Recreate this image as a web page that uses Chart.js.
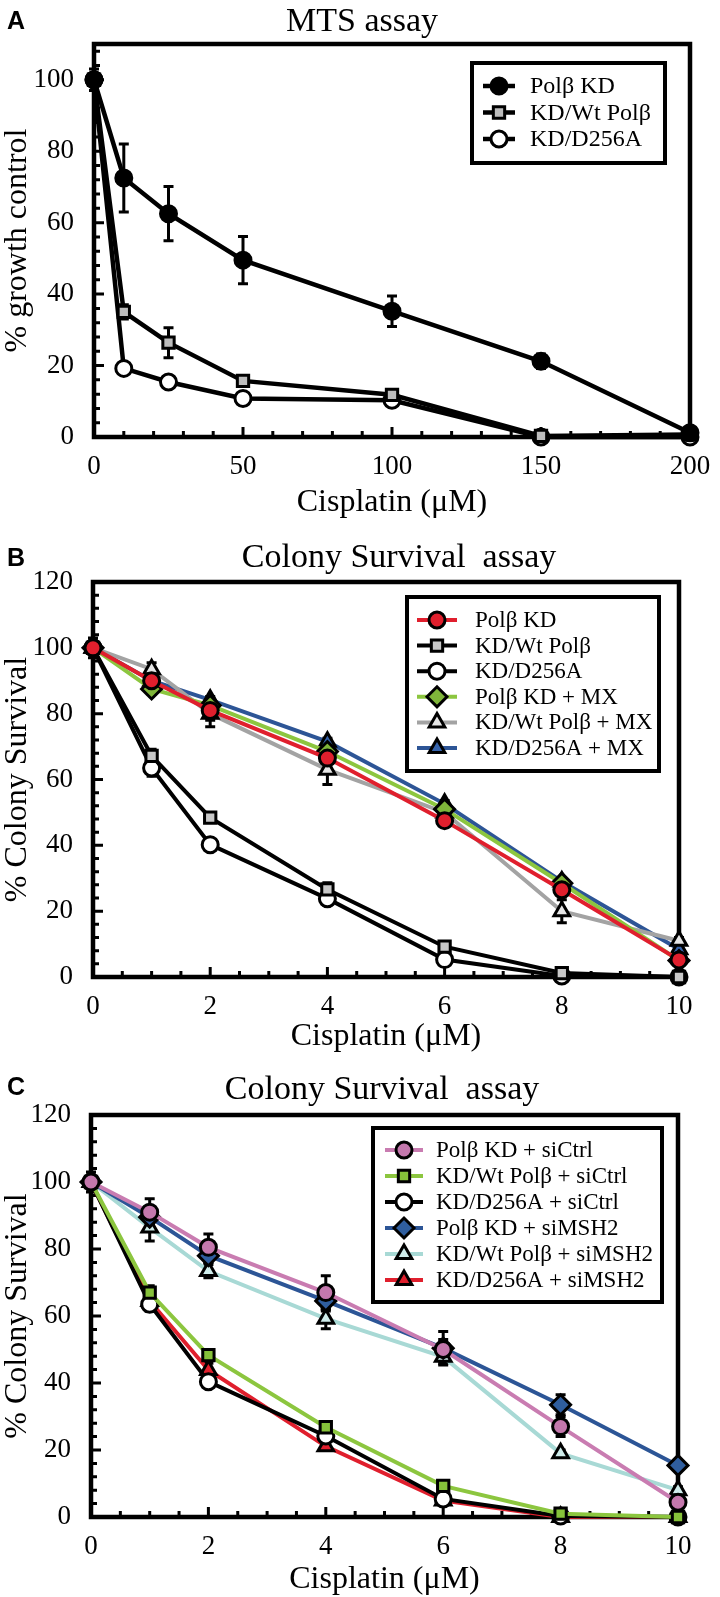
<!DOCTYPE html>
<html>
<head>
<meta charset="utf-8">
<script src="https://cdn.jsdelivr.net/npm/chart.js@4/dist/chart.umd.min.js"></script>
<style>
  html, body { margin: 0; padding: 0; background: #fff; }
  body { width: 720px; height: 1597px; position: relative; overflow: hidden; }
  canvas { position: absolute; left: 0; }
</style>
</head>
<body>
<canvas id="chartA" width="720" height="520" style="top:0"></canvas>
<canvas id="chartB" width="720" height="534" style="top:520px"></canvas>
<canvas id="chartC" width="720" height="547" style="top:1050px"></canvas>
<script>
// ---- data: panel A (MTS assay) ----
const xA = [0, 10, 25, 50, 100, 150, 200];
const kdA = [100, 72.5, 62.5, 49.5, 35.2, 21.2, 1.2];
const kdAErr = [3, 9.5, 7.6, 6.6, 4.3, 2, 0];
const wtA = [100, 35, 26.4, 15.7, 11.8, 0.3, 0.7];
const wtAErr = [0, 2, 4.2, 1.2, 1, 0, 0];
const d256A = [100, 19.2, 15.4, 10.8, 10.3, 0, 0];
const d256AErr = [0, 1, 0.8, 0.8, 0.8, 0, 0];
const xTicksA = [0, 50, 100, 150, 200];
const yTicksA = [0, 20, 40, 60, 80, 100];
const legendA = ["Polβ KD", "KD/Wt Polβ", "KD/D256A"];

// ---- data: panel B (colony survival, MX) ----
const xB = [0, 1, 2, 4, 6, 8, 10];
const kdB = [100, 90, 81, 66.5, 47.5, 26.5, 5.2];
const kdBErr = [2, 2, 3, 3, 1.5, 2, 1];
const wtB = [100, 67.2, 48.4, 26.6, 9.2, 1.2, 0];
const wtBErr = [3, 2, 1, 2, 1, 0.8, 0];
const d256B = [100, 63.5, 40.2, 23.8, 5.3, 0.3, 0];
const d256BErr = [2, 2.5, 1, 2, 1, 0, 0];
const kdMxB = [100, 87.5, 82.5, 68.5, 51, 28.5, 5];
const kdMxBErr = [1, 1.5, 2, 2, 1, 1, 1];
const wtMxB = [100, 93.5, 80, 63, 50, 20, 11];
const wtMxBErr = [1, 2, 4, 4.5, 2, 3.5, 1];
const d256MxB = [100, 90, 84.2, 71.5, 52.6, 29, 8.4];
const d256MxBErr = [1, 1, 1, 1, 1, 1, 1];
const legendB = ["Polβ KD", "KD/Wt Polβ", "KD/D256A", "Polβ KD + MX", "KD/Wt Polβ + MX", "KD/D256A + MX"];

// ---- data: panel C (colony survival, siRNA) ----
const xC = [0, 1, 2, 4, 6, 8, 10];
const kdCtrlC = [100, 91, 80.5, 67, 50, 27, 4.4];
const kdCtrlCErr = [2, 4, 4, 5, 3, 3, 1];
const wtCtrlC = [100, 67, 48.3, 26.8, 9.3, 1, 0];
const wtCtrlCErr = [3, 2, 1, 1, 1, 1, 0];
const d256CtrlC = [100, 63.5, 40.4, 24.2, 5.4, 0.3, 0];
const d256CtrlCErr = [2, 2, 1, 1, 1, 0, 0];
const kdMshC = [100, 89.5, 78, 64.5, 50.4, 33.5, 15.4];
const kdMshCErr = [1, 2, 2, 3, 5, 3, 1];
const wtMshC = [100, 86.4, 73.4, 59.2, 47.8, 19, 8];
const wtMshCErr = [1, 4, 2, 3, 2, 1, 1];
const d256MshC = [100, 64.5, 43.9, 21.1, 4.9, 0, 0];
const d256MshCErr = [1, 3, 2, 1, 1, 0, 0];
const legendC = ["Polβ KD + siCtrl", "KD/Wt Polβ + siCtrl", "KD/D256A + siCtrl", "Polβ KD + siMSH2", "KD/Wt Polβ + siMSH2", "KD/D256A + siMSH2"];

const xTicksBC = [0, 2, 4, 6, 8, 10];
const yTicksBC = [0, 20, 40, 60, 80, 100, 120];

const SERIF = "'Liberation Serif', 'Times New Roman', serif";
const SANS = "'Liberation Sans', Arial, sans-serif";

Chart.defaults.font.family = SERIF;
Chart.defaults.color = "#000";

const pts = (xs, ys) => xs.map((x, i) => ({ x, y: ys[i] }));

function series(label, xs, ys, err, line, fill, style, r, lw) {
  return {
    label, data: pts(xs, ys), err,
    borderColor: line, borderWidth: lw || 4, tension: 0,
    pointStyle: style, pointRadius: r || 8, pointBorderWidth: 3,
    pointBackgroundColor: fill, pointBorderColor: "#000",
    clip: false,
  };
}

// error bars, inner tick marks, frame, legend box, title, panel letter
const panelDecor = {
  id: "panelDecor",
  beforeDatasetsDraw(chart, args, o) {
    const { ctx, chartArea: a, scales: { x, y } } = chart;
    ctx.save();
    // error bars
    ctx.strokeStyle = "#000";
    ctx.lineWidth = 3;
    chart.data.datasets.forEach((ds) => {
      (ds.err || []).forEach((e, i) => {
        if (!e) return;
        const p = ds.data[i];
        const px = x.getPixelForValue(p.x);
        const t = y.getPixelForValue(p.y + e), b = y.getPixelForValue(p.y - e);
        ctx.beginPath();
        ctx.moveTo(px, t); ctx.lineTo(px, b);
        ctx.moveTo(px - 5, t); ctx.lineTo(px + 5, t);
        ctx.moveTo(px - 5, b); ctx.lineTo(px + 5, b);
        ctx.stroke();
      });
    });
    // inner ticks
    ctx.lineWidth = 3;
    ctx.beginPath();
    for (let v = y.min; v <= y.max + 1e-6; v += o.yMinor) {
      const py = y.getPixelForValue(v);
      const major = Math.abs(v / o.yMajor - Math.round(v / o.yMajor)) < 1e-6;
      ctx.moveTo(a.left, py); ctx.lineTo(a.left + (major ? 10 : 6), py);
    }
    for (let v = x.min; v <= x.max + 1e-6; v += o.xMinor) {
      const px = x.getPixelForValue(v);
      const major = Math.abs(v / o.xMajor - Math.round(v / o.xMajor)) < 1e-6;
      ctx.moveTo(px, a.bottom); ctx.lineTo(px, a.bottom - (major ? 10 : 6));
    }
    ctx.stroke();
    // frame
    ctx.lineWidth = 4.5;
    ctx.strokeRect(a.left, a.top, a.right - a.left, a.bottom - a.top);
    ctx.restore();
  },
  afterDraw(chart, args, o) {
    const { ctx } = chart;
    const L = o.legend;
    ctx.save();
    // legend
    ctx.fillStyle = "#fff";
    ctx.fillRect(L.box[0], L.box[1], L.box[2] - L.box[0], L.box[3] - L.box[1]);
    ctx.strokeStyle = "#000";
    ctx.lineWidth = 4;
    ctx.strokeRect(L.box[0], L.box[1], L.box[2] - L.box[0], L.box[3] - L.box[1]);
    chart.data.datasets.forEach((ds, i) => {
      const ry = L.rows0 + i * L.step;
      ctx.strokeStyle = ds.borderColor;
      ctx.lineWidth = ds.borderWidth;
      ctx.beginPath();
      ctx.moveTo(L.line[0], ry); ctx.lineTo(L.line[1], ry);
      ctx.stroke();
      ctx.fillStyle = ds.pointBackgroundColor;
      ctx.strokeStyle = ds.pointBorderColor;
      ctx.lineWidth = ds.pointBorderWidth;
      Chart.helpers.drawPoint(ctx, { pointStyle: ds.pointStyle, radius: ds.pointRadius, rotation: 0, borderWidth: ds.pointBorderWidth }, L.marker, ry);
      ctx.fillStyle = "#000";
      ctx.font = L.font;
      ctx.textAlign = "left";
      ctx.textBaseline = "middle";
      ctx.fillText(ds.label, L.text, ry + 1);
    });
    // title
    ctx.fillStyle = "#000";
    ctx.textAlign = "center";
    ctx.textBaseline = "middle";
    ctx.font = "34px " + SERIF;
    ctx.fillText(o.title, o.titleAt[0], o.titleAt[1]);
    // panel letter
    ctx.font = "bold 25px " + SANS;
    ctx.fillText(o.letter, o.letterAt[0], o.letterAt[1]);
    ctx.restore();
  },
};

function build(id, datasets, c) {
  return new Chart(document.getElementById(id), {
    type: "line",
    data: { datasets },
    plugins: [panelDecor],
    options: {
      responsive: false,
      animation: false,
      layout: { padding: { top: c.top, right: 720 - c.right, left: 0, bottom: 0 } },
      plugins: {
        legend: { display: false },
        tooltip: { enabled: false },
        panelDecor: c.decor,
      },
      scales: {
        x: {
          type: "linear", min: c.xMin, max: c.xMax,
          afterBuildTicks: (s) => { s.ticks = c.xTicks.map((v) => ({ value: v })); },
          afterFit: (s) => { s.height = c.height - c.bottom; },
          grid: { display: false }, border: { display: false },
          ticks: { color: "#000", font: { family: SERIF, size: 27 }, padding: 6, maxRotation: 0, autoSkip: false },
          title: { display: true, text: "Cisplatin (μM)", color: "#000", font: { family: SERIF, size: 32, lineHeight: 1.1 }, padding: 0 },
        },
        y: {
          min: 0, max: c.yMax,
          afterBuildTicks: (s) => { s.ticks = c.yTicks.map((v) => ({ value: v })); },
          afterFit: (s) => { s.width = c.left; },
          grid: { display: false }, border: { display: false },
          ticks: { color: "#000", font: { family: SERIF, size: 27 }, padding: 12, autoSkip: false },
          title: { display: true, text: c.yTitle, color: "#000", font: { family: SERIF, size: 32, lineHeight: 1.1 }, padding: 0 },
        },
      },
    },
  });
}

// ---- Panel A ----
build("chartA", [
  series(legendA[0], xA, kdA, kdAErr, "#000", "#000", "circle", 8, 4.5),
  series(legendA[1], xA, wtA, wtAErr, "#000", "#bdbdbd", "rect", 8, 4.5),
  series(legendA[2], xA, d256A, d256AErr, "#000", "#fff", "circle", 8, 4.5),
], {
  height: 520, top: 44, left: 94, right: 690, bottom: 437,
  xMin: 0, xMax: 200, yMax: 110, xTicks: xTicksA, yTicks: yTicksA,
  yTitle: "% growth control",
  decor: {
    xMinor: 10, xMajor: 50, yMinor: 4, yMajor: 20,
    title: "MTS assay", titleAt: [362, 22], letter: "A", letterAt: [16, 22],
    legend: { box: [472, 63, 665, 163], rows0: 86, step: 26.5, line: [483, 515], marker: 499, text: 530, font: "24px " + SERIF },
  },
});

// ---- Panel B ----
build("chartB", [
  series(legendB[0], xB, kdB, kdBErr, "#e01f2d", "#e01f2d", "circle", 8),
  series(legendB[1], xB, wtB, wtBErr, "#000", "#c8c8c8", "rect", 8),
  series(legendB[2], xB, d256B, d256BErr, "#000", "#fff", "circle", 8),
  series(legendB[3], xB, kdMxB, kdMxBErr, "#8cc63f", "#7fb53a", "rectRot", 10),
  series(legendB[4], xB, wtMxB, wtMxBErr, "#a3a3a3", "#e6e6e6", "triangle", 9),
  series(legendB[5], xB, d256MxB, d256MxBErr, "#2d5596", "#3663ab", "triangle", 9),
], {
  height: 534, top: 62, left: 93, right: 679, bottom: 457,
  xMin: 0, xMax: 10, yMax: 120, xTicks: xTicksBC, yTicks: yTicksBC,
  yTitle: "% Colony Survival",
  decor: {
    xMinor: 0.5, xMajor: 2, yMinor: 4, yMajor: 20,
    title: "Colony Survival  assay", titleAt: [399, 38], letter: "B", letterAt: [16, 39],
    legend: { box: [407, 77, 659, 251], rows0: 100, step: 25.6, line: [417, 457], marker: 437, text: 475, font: "23px " + SERIF },
  },
});

// ---- Panel C ----
build("chartC", [
  series(legendC[0], xC, kdCtrlC, kdCtrlCErr, "#c97cb1", "#c478ad", "circle", 8),
  series(legendC[1], xC, wtCtrlC, wtCtrlCErr, "#8cc63f", "#86c23a", "rect", 8),
  series(legendC[2], xC, d256CtrlC, d256CtrlCErr, "#000", "#fff", "circle", 8),
  series(legendC[3], xC, kdMshC, kdMshCErr, "#2c5596", "#2f5e9f", "rectRot", 10),
  series(legendC[4], xC, wtMshC, wtMshCErr, "#a8d9d5", "#cfeceb", "triangle", 9),
  series(legendC[5], xC, d256MshC, d256MshCErr, "#e01f2d", "#e01f2d", "triangle", 9),
], {
  height: 547, top: 65, left: 91, right: 678, bottom: 467,
  xMin: 0, xMax: 10, yMax: 120, xTicks: xTicksBC, yTicks: yTicksBC,
  yTitle: "% Colony Survival",
  decor: {
    xMinor: 0.5, xMajor: 2, yMinor: 4, yMajor: 20,
    title: "Colony Survival  assay", titleAt: [382, 40], letter: "C", letterAt: [16, 38],
    legend: { box: [373, 78, 662, 252], rows0: 100, step: 26, line: [385, 423], marker: 404, text: 436, font: "23px " + SERIF },
  },
});
</script>
</body>
</html>
